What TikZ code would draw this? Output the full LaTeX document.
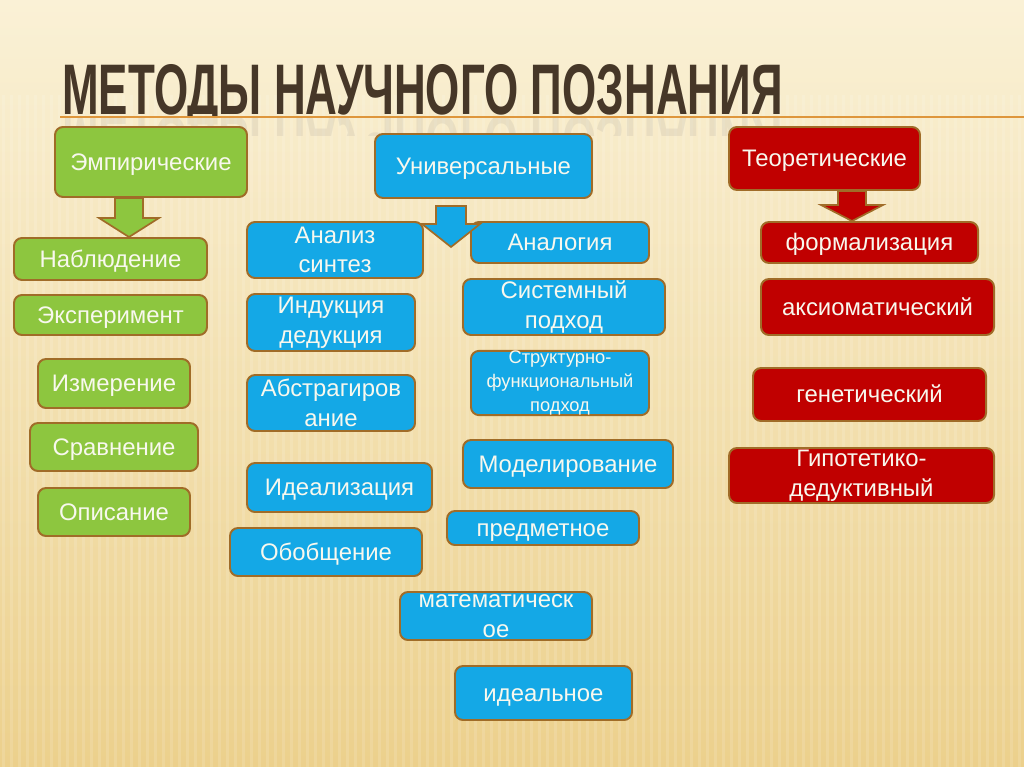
\documentclass[tikz,border=0pt]{standalone}
\usepackage{fontspec}
\setmainfont{Liberation Sans}
\usetikzlibrary{calc}

\definecolor{bgtop}{RGB}{250,241,214}
\definecolor{bgbot}{RGB}{236,208,140}
\definecolor{titlebrown}{RGB}{70,55,40}
\definecolor{rimbrown}{RGB}{160,108,40}
\definecolor{empgreen}{RGB}{141,198,63}
\definecolor{unblue}{RGB}{20,168,230}
\definecolor{teorred}{RGB}{192,0,0}
\definecolor{lineorange}{RGB}{222,150,60}
\definecolor{boxtext}{RGB}{248,248,238}

\tikzset{
  sz/.style 2 args={minimum width=#1*0.025cm, minimum height=#2*0.025cm},
  methbox/.style={draw=rimbrown, line width=1.4pt, rounded corners=0.2cm,
    text=boxtext, align=center, inner sep=0pt,
    font=\fontsize{17}{21}\selectfont, text height=12pt, text depth=0pt},
  tall/.style={text height={}, text depth={}},
  gbox/.style={methbox, fill=empgreen},
  bbox/.style={methbox, fill=unblue},
  rbox/.style={methbox, fill=teorred},
  blockarrow/.style={draw=rimbrown, line width=1.2pt, line join=miter}
}

\begin{document}
\begin{tikzpicture}[x=0.025cm, y=-0.025cm]
  \useasboundingbox (0,0) rectangle (1024,767);
  \shade[top color=bgtop, bottom color=bgbot] (0,0) rectangle (1024,767);
  \foreach \x in {2,10,...,1024}
    \fill[white, opacity=0.13] (\x,95) rectangle ++(3,672);

  % title and its reflection
  \begin{scope}
    \clip (0,0) rectangle (1024,116);
    \node[anchor=base west, inner sep=0pt, text=titlebrown] (title) at (62,115)
      {\resizebox{18cm}{1.25cm}{\bfseries МЕТОДЫ НАУЧНОГО ПОЗНАНИЯ}};
  \end{scope}
  \begin{scope}
    \clip (0,117) rectangle (1024,136);
    \node[anchor=base west, inner sep=0pt, text=gray, opacity=0.12,
      yscale=-1] (mirror) at (62,117)
      {\resizebox{18cm}{1.25cm}{\bfseries МЕТОДЫ НАУЧНОГО ПОЗНАНИЯ}};
  \end{scope}
  \draw[lineorange, line width=1.5pt] (60,117) -- (1024,117);

  % empirical
  \node[gbox, sz={192}{70}] (emp) at (151,162) {Эмпирические};
  \node[gbox, sz={193}{42}] (nab) at (110.5,259) {Наблюдение};
  \node[gbox, sz={193}{40}] (eksp) at (110.5,315) {Эксперимент};
  \node[gbox, sz={152}{49}] (izm) at (114,383.5) {Измерение};
  \node[gbox, sz={168}{48}] (sravn) at (114,447) {Сравнение};
  \node[gbox, sz={152}{48}] (opis) at (114,512) {Описание};

  % universal
  \node[bbox, sz={217}{64}] (univ) at (483.5,166) {Универсальные};
  \node[bbox, tall, sz={176}{56}] (anal) at (335,250) {Анализ\\синтез};
  \node[bbox, sz={178}{41}] (analog) at (560,242.5) {Аналогия};
  \node[bbox, tall, sz={168}{57}] (ind) at (331,322.5) {Индукция\\дедукция};
  \node[bbox, tall, sz={202}{56}] (sist) at (564,307) {Системный\\подход};
  \node[bbox, tall, sz={168}{56}] (abstr) at (331,403) {Абстрагиров\\ание};
  \node[bbox, tall, sz={178}{64}, font=\fontsize{13}{17}\selectfont] (strukt) at (560,383)
    {Структурно-\\функциональный\\подход};
  \node[bbox, sz={210}{48}] (model) at (568,464) {Моделирование};
  \node[bbox, sz={185}{49}] (ideal) at (339.5,487.5) {Идеализация};
  \node[bbox, sz={192}{34}] (predm) at (543,528) {предметное};
  \node[bbox, sz={192}{48}] (obob) at (326,552) {Обобщение};
  \node[bbox, tall, sz={192}{48}] (matem) at (496,616) {математическ\\ое};
  \node[bbox, sz={177}{54}] (idealn) at (543.5,693) {идеальное};

  % theoretical
  \node[rbox, sz={191}{63}] (teor) at (824.5,158.5) {Теоретические};
  \node[rbox, sz={217}{41}] (form) at (869.5,242.5) {формализация};
  \node[rbox, sz={233}{56}] (aksiom) at (877.5,307) {аксиоматический};
  \node[rbox, sz={233}{53}] (genet) at (869.5,394.5) {генетический};
  \node[rbox, tall, sz={265}{55}] (gipot) at (861.5,475.5) {Гипотетико-\\дедуктивный};

  % block arrows
  \coordinate (ga) at (129,198);
  \filldraw[blockarrow, fill=empgreen] ($(ga)+(-14,0)$) -- ($(ga)+(-14,20)$)
    -- ($(ga)+(-30,20)$) -- (ga |- nab.north) -- ($(ga)+(30,20)$)
    -- ($(ga)+(14,20)$) -- ($(ga)+(14,0)$) -- cycle;

  \coordinate (ba) at (451,206);
  \coordinate (bt) at (451,247);
  \filldraw[blockarrow, fill=unblue] ($(ba)+(-15,0)$) -- ($(ba)+(-15,18)$)
    -- ($(ba)+(-29,18)$) -- (bt) -- ($(ba)+(29,18)$)
    -- ($(ba)+(15,18)$) -- ($(ba)+(15,0)$) -- cycle;

  \coordinate (ra) at (852,191);
  \filldraw[blockarrow, fill=teorred] ($(ra)+(-14,0)$) -- ($(ra)+(-14,14)$)
    -- ($(ra)+(-31,14)$) -- (ra |- form.north) -- ($(ra)+(31,14)$)
    -- ($(ra)+(14,14)$) -- ($(ra)+(14,0)$) -- cycle;
\end{tikzpicture}
\end{document}
